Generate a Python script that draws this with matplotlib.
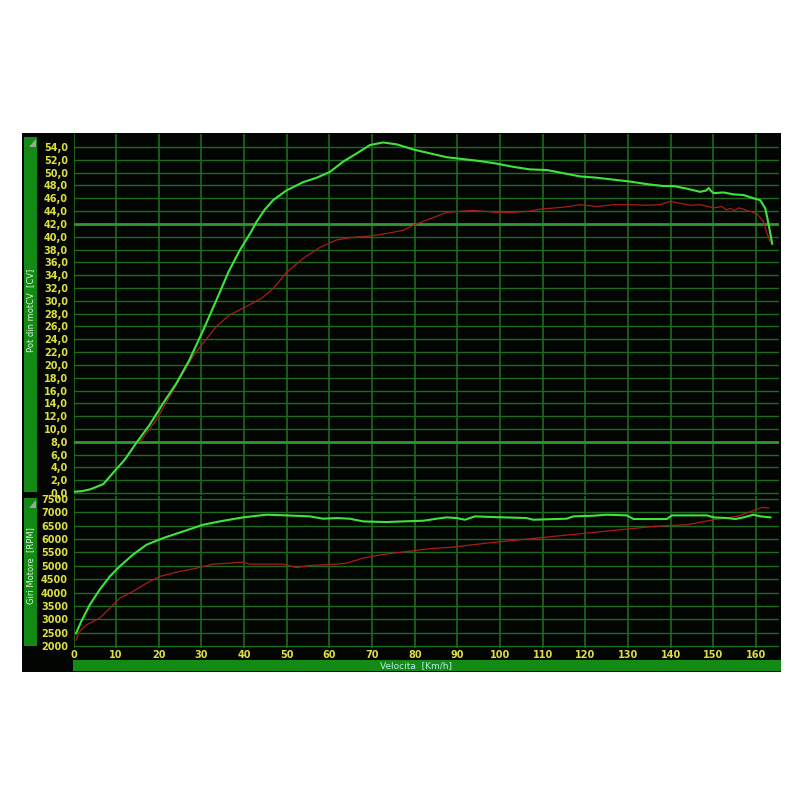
import matplotlib
matplotlib.use("Agg")
import matplotlib.pyplot as plt
from matplotlib.patches import Rectangle, Polygon

# ---------------- data ----------------
pow_green_x = [0, 2, 4, 7, 9.6, 12, 14.7, 17.8, 21, 24.1, 27.2, 30.4, 33.5, 36.4, 39, 41.5, 42.9, 44.8,
               46.8, 49.9, 53.8, 57, 60.1, 63.2, 66.4, 69.5, 72.6, 75.8, 79.7, 83.6, 87.5, 91.4, 95.3,
               99.2, 103.1, 107, 111, 114.9, 118.8, 122.7, 126.6, 130.5, 134.4, 138.3, 140.7, 143.8,
               146.9, 148.3, 148.9, 149.5, 150.1, 152.4, 154.8, 157.1, 159.4, 161, 162.2, 163, 163.8]
pow_green_y = [0.2, 0.3, 0.6, 1.4, 3.4, 5.2, 7.8, 10.6, 14, 17.1, 20.8, 25.4, 30.1, 34.6, 37.9, 40.6, 42.3, 44.2,
               45.7, 47.2, 48.5, 49.2, 50.1, 51.7, 53, 54.3, 54.7, 54.4, 53.6, 53, 52.4, 52.1, 51.8,
               51.4, 50.9, 50.5, 50.4, 49.9, 49.4, 49.2, 48.9, 48.6, 48.2, 47.9, 47.9, 47.5,
               47.0, 47.2, 47.6, 47.1, 46.8, 46.9, 46.6, 46.5, 46.0, 45.7, 44.4, 41.8, 38.9]

pow_red_x = [0, 2, 4, 7, 9.6, 12, 14.7, 15.9, 19.4, 22.5, 25.7, 28, 30.4, 33.5, 36.6, 40.5, 44.1, 46.8,
             49.9, 53.8, 57.7, 61.7, 65.6, 69.5, 73.4, 77.3, 79.7, 83.6, 87.5, 91.4, 93.7, 99.2, 103.1,
             107, 109.4, 114.9, 118.8, 122.7, 126.6, 130.5, 134.4, 137.5, 139.9, 142.3, 144.7, 146.9,
             150.1, 152, 153, 154, 155, 156, 157.9, 160.2, 161.8, 162.5, 163.3]
pow_red_y = [0.2, 0.3, 0.6, 1.4, 3.4, 5.2, 7.8, 8.3, 11.4, 15, 18.7, 21.3, 23.4, 26, 27.8, 29.1, 30.4, 31.9,
             34.4, 36.6, 38.3, 39.5, 39.9, 40.1, 40.5, 41, 41.8, 42.8, 43.8, 44, 44.1, 43.8, 43.8,
             44, 44.3, 44.6, 45, 44.7, 45, 45, 44.9, 45, 45.5, 45.2, 44.9, 45,
             44.5, 44.7, 44.2, 44.4, 44.1, 44.5, 44.1, 43.6, 42.3, 40.7, 39.2]

rpm_green_x = [0.6, 1.8, 3.8, 6.1, 8.5, 10.8, 13.9, 17.1, 21, 25.7, 30.4, 34.3, 39.7, 45.2, 49.9, 55.4,
               58.5, 61.7, 64.8, 67.9, 73.4, 77.3, 82, 85.1, 87.5, 89.8, 91.8, 94.1, 98.4, 106.2, 107.8,
               115.6, 117.2, 121.9, 125, 129.7, 131.3, 139.1, 140.3, 148.5, 150.1, 153.2, 155.2, 157.1,
               159.4, 161, 163.4]
rpm_green_y = [2475, 2911, 3537, 4100, 4600, 4975, 5412, 5787, 6037, 6287, 6537, 6662, 6812, 6912, 6887, 6850,
               6762, 6787, 6762, 6662, 6637, 6662, 6687, 6762, 6812, 6787, 6725, 6850, 6825, 6787, 6725,
               6762, 6850, 6875, 6912, 6887, 6750, 6750, 6887, 6887, 6812, 6787, 6750, 6812,
               6912, 6850, 6812]

rpm_red_x = [0.6, 1.4, 3, 6.1, 8.5, 10.8, 13.9, 17.1, 20.2, 24.1, 28.8, 32.7, 36.6, 39.7, 41.3, 49.1,
             52.3, 55.4, 61.7, 64, 67.9, 71.1, 75, 79.7, 83.2, 89, 96.9, 104.7, 112.5, 120.4, 128.2,
             136, 143.8, 150.1, 155.6, 159.4, 161.4, 163]
rpm_red_y = [2225, 2537, 2787, 3037, 3412, 3787, 4037, 4350, 4600, 4762, 4912, 5062, 5100, 5137, 5062, 5062,
             4937, 5012, 5062, 5100, 5287, 5387, 5475, 5562, 5637, 5700, 5850, 5975, 6100, 6225, 6350,
             6475, 6537, 6725, 6850, 7062, 7187, 7162]

x_ticks = list(range(0, 161, 10))
pow_ticks = [i * 2 for i in range(28)]
rpm_ticks = list(range(2000, 7501, 500))

# ---------------- style ----------------
W, H = 800, 800
BLACK = "#030503"
GRID = "#1d6b1d"
GRID_BRIGHT = "#2e9a2e"
STRIP = "#138a13"
YELLOW = "#dede40"
GREEN_LINE = "#3ee43e"
RED_LINE = "#a81c1c"

fig = plt.figure(figsize=(8, 8), dpi=100)
fig.patch.set_facecolor("white")


def fx(px):
    return px / W


def fy(py):
    return 1 - py / H


# background axes covering the whole figure, drawn beneath the plot axes
bg = fig.add_axes([0, 0, 1, 1], zorder=-10)
bg.set_xlim(0, W)
bg.set_ylim(H, 0)
bg.axis("off")


def prect(x0, y0, x1, y1, color, z=1):
    bg.add_patch(Rectangle((x0, y0), x1 - x0, y1 - y0, facecolor=color, edgecolor="none", zorder=z))


prect(22, 133, 781, 672, BLACK, z=1)
prect(24, 137, 37, 492, STRIP, z=2)
prect(24, 498, 37, 646, STRIP, z=2)
prect(73, 660, 781, 671, STRIP, z=2)
for (x0, y0) in [(29, 139), (29, 500)]:
    bg.add_patch(Polygon([(x0, y0 + 8), (x0 + 7, y0 + 8), (x0 + 7, y0)], closed=True,
                         facecolor="#9aa79a", edgecolor="none", zorder=3))

bg.text(31, 310, "Pot din motCV  [CV]", rotation=90, ha="center", va="center",
        fontsize=6, color="#d8f5d8", zorder=5)
bg.text(31, 566, "Giri Motore  [RPM]", rotation=90, ha="center", va="center",
        fontsize=6, color="#d8f5d8", zorder=5)
bg.text(416, 665.5, "Velocita  [Km/h]", ha="center", va="center",
        fontsize=6.5, color="#b8ecec", zorder=5)

L, R = 73.5, 779
ax1 = fig.add_axes([fx(L), fy(495), fx(R) - fx(L), fy(133.5) - fy(495)])
ax2 = fig.add_axes([fx(L), fy(648), fx(R) - fx(L), fy(496) - fy(648)])

for ax in (ax1, ax2):
    ax.set_facecolor(BLACK)
    ax.set_xlim(0, 165.4)
    for s in ax.spines.values():
        s.set_visible(False)
    ax.tick_params(length=0, colors=YELLOW, labelsize=7)
    for xv in x_ticks:
        ax.axvline(xv, color=GRID, lw=1.2, zorder=1)

ax1.set_ylim(-0.3, 56.1)
ax2.set_ylim(1925, 7612)

for yv in pow_ticks:
    bright = yv in (8, 42)
    ax1.axhline(yv, color=GRID_BRIGHT if bright else GRID, lw=2.0 if bright else 1.0, zorder=1)
for yv in rpm_ticks:
    ax2.axhline(yv, color=GRID, lw=1.0, zorder=1)

ax1.plot(pow_red_x, pow_red_y, color=RED_LINE, lw=0.9, zorder=3)
ax1.plot(pow_green_x, pow_green_y, color=GREEN_LINE, lw=1.5, zorder=4)
ax2.plot(rpm_red_x, rpm_red_y, color=RED_LINE, lw=0.9, zorder=3)
ax2.plot(rpm_green_x, rpm_green_y, color=GREEN_LINE, lw=1.5, zorder=4)

ax1.set_yticks(pow_ticks)
ax1.set_yticklabels([f"{v:.1f}".replace(".", ",") for v in pow_ticks],
                    fontweight="bold", color=YELLOW)
ax1.set_xticks([])
ax1.tick_params(axis="y", pad=4)

ax2.set_yticks(rpm_ticks)
ax2.set_yticklabels([str(v) for v in rpm_ticks], fontweight="bold", color=YELLOW)
ax2.set_xticks(x_ticks)
ax2.set_xticklabels([str(v) for v in x_ticks], fontweight="bold", color=YELLOW)
ax2.tick_params(axis="y", pad=4)
ax2.tick_params(axis="x", pad=1.5)

fig.savefig("out.png", dpi=100, facecolor=fig.get_facecolor())
